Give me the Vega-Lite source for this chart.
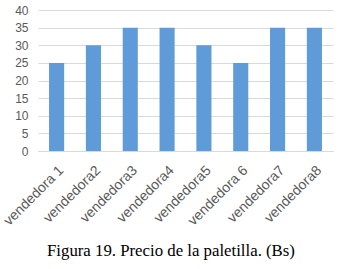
{
  "$schema": "https://vega.github.io/schema/vega-lite/v6.json",
  "width": 295,
  "height": 141,
  "autosize": {"type": "none"},
  "padding": {"left": 38, "top": 10, "right": 5, "bottom": 118},
  "background": "white",
  "title": {
    "text": "Figura 19. Precio de la paletilla. (Bs)",
    "orient": "bottom",
    "anchor": "start",
    "frame": "group",
    "dx": 9,
    "offset": 15,
    "font": "Liberation Serif",
    "fontSize": 16.8,
    "fontWeight": "normal",
    "color": "#000000"
  },
  "data": {
    "values": [
      {"vendedora": "vendedora 1", "precio": 25},
      {"vendedora": "vendedora2", "precio": 30},
      {"vendedora": "vendedora3", "precio": 35},
      {"vendedora": "vendedora4", "precio": 35},
      {"vendedora": "vendedora5", "precio": 30},
      {"vendedora": "vendedora 6", "precio": 25},
      {"vendedora": "vendedora7", "precio": 35},
      {"vendedora": "vendedora8", "precio": 35}
    ]
  },
  "mark": {"type": "bar", "color": "#5e9bd8"},
  "encoding": {
    "x": {
      "field": "vendedora",
      "type": "nominal",
      "sort": null,
      "scale": {"paddingInner": 0.59, "paddingOuter": 0.3},
      "axis": {
        "title": null,
        "labelAngle": -45,
        "labelFont": "Liberation Sans",
        "labelFontSize": 14,
        "labelColor": "#595959",
        "ticks": false,
        "labelPadding": 12,
        "domainColor": "#d9d9d9",
        "grid": false
      }
    },
    "y": {
      "field": "precio",
      "type": "quantitative",
      "scale": {"domain": [0, 40]},
      "axis": {
        "title": null,
        "values": [0, 5, 10, 15, 20, 25, 30, 35, 40],
        "labelFont": "Liberation Sans",
        "labelFontSize": 12,
        "labelColor": "#595959",
        "ticks": false,
        "domain": false,
        "labelPadding": 10,
        "gridColor": "#d9d9d9"
      }
    }
  },
  "config": {"view": {"stroke": null}}
}
